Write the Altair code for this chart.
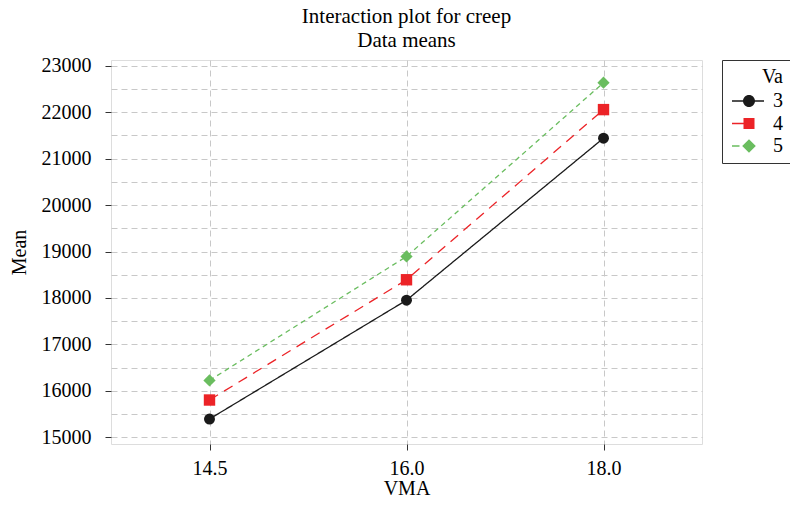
import altair as alt
import pandas as pd

# ---- data ----
vma_levels = ["14.5", "16.0", "18.0"]
va_levels = ["3", "4", "5"]
mean_va3 = [15394, 17952, 21440]
mean_va4 = [15803, 18392, 22055]
mean_va5 = [16225, 18893, 22634]

y_grid_values = list(range(15000, 23001, 500))

# ---- styles ----
colors = ["#1a1a1a", "#ec2327", "#6abd5f"]
marker_shapes = ["circle", "square", "diamond"]
marker_sizes = [120, 130, 150]
dashes = [[1, 0], [10, 7], [5, 4]]
# legend keys: short line + marker (unit = 10 px)
legend_paths = [
    "M-1.7,-0.065L-0.55,-0.065L-0.55,0.065L-1.7,0.065Z"
    "M0.55,-0.065L1.5,-0.065L1.5,0.065L0.55,0.065Z"
    "M-0.6,0A0.6,0.6,0,1,1,0.6,0A0.6,0.6,0,1,1,-0.6,0Z",
    "M-1.7,-0.065L-0.5,-0.065L-0.5,0.065L-1.7,0.065Z"
    "M-0.55,-0.55L0.55,-0.55L0.55,0.55L-0.55,0.55Z",
    "M-1.7,-0.065L-0.95,-0.065L-0.95,0.065L-1.7,0.065Z"
    "M0,-0.68L0.68,0L0,0.68L-0.68,0Z",
]
FONT = "Liberation Serif"

rows = []
for lvl, vals in zip(va_levels, [mean_va3, mean_va4, mean_va5]):
    for x, v in zip(vma_levels, vals):
        rows.append({"VMA": x, "Va": lvl, "Mean": v})
df = pd.DataFrame(rows)

x_enc = alt.X(
    "VMA:N",
    sort=vma_levels,
    scale=alt.Scale(type="point", padding=0.5),
    axis=alt.Axis(
        title="VMA", labelAngle=0, tickSize=6, labelPadding=8, titlePadding=0,
        grid=True, gridDash=[6, 4], gridColor="#c8c8c8", gridWidth=1,
        domain=False, tickColor="#333", labelFont=FONT, labelFontSize=20,
        labelColor="black", titleFont=FONT, titleFontSize=20,
        titleFontWeight="normal", titleColor="black",
    ),
)
y_enc = alt.Y(
    "Mean:Q",
    scale=alt.Scale(domain=[14856, 23123], nice=False, zero=False),
    axis=alt.Axis(
        title="Mean", values=y_grid_values, format="d",
        labelExpr="datum.value % 1000 == 0 ? datum.label : ''",
        tickOpacity={"condition": {"test": "datum.value % 1000 == 0", "value": 1}, "value": 0},
        tickSize=6, labelPadding=14, titlePadding=12,
        grid=True, gridDash=[6, 4], gridColor="#c8c8c8", gridWidth=1,
        domain=False, tickColor="#333", labelFont=FONT, labelFontSize=20,
        labelColor="black", titleFont=FONT, titleFontSize=20,
        titleFontWeight="normal", titleColor="black",
    ),
)

# data-driven domains here (sorted "3","4","5"), so these disabled legends
# are not merged with the visible legend below
color_enc = alt.Color("Va:N", scale=alt.Scale(range=colors), legend=None)

base = alt.Chart(df)

lines = base.mark_line(strokeWidth=1.3).encode(
    x=x_enc,
    y=y_enc,
    color=color_enc,
    strokeDash=alt.StrokeDash("Va:N", scale=alt.Scale(range=dashes), legend=None),
)

point_layers = [
    base.transform_filter(alt.datum.Va == lvl)
    .mark_point(filled=True, opacity=1, size=sz, shape=shp)
    .encode(x=x_enc, y=y_enc, color=color_enc)
    for lvl, shp, sz in zip(va_levels, marker_shapes, marker_sizes)
]

leg = alt.Legend(
    title="Va", orient="right", offset=20, padding=7, strokeColor="#333",
    fillColor="white", titleFont=FONT, titleFontSize=20, titleFontWeight="normal",
    titleColor="black", titleAnchor="end", titlePadding=4,
    labelFont=FONT, labelFontSize=20, labelColor="black", labelOffset=14,
    symbolOffset=10, symbolSize=400, symbolStrokeWidth=0, rowPadding=2.5,
)

# legend-only layer (no rows drawn), keys are line + marker
legend_layer = base.transform_filter("false").mark_point(
    filled=True, opacity=1, size=400, strokeWidth=0
).encode(
    fill=alt.Fill("Va:N", scale=alt.Scale(domain=va_levels, range=colors), legend=leg),
    shape=alt.Shape("Va:N", scale=alt.Scale(domain=va_levels, range=legend_paths), legend=leg),
)

chart = (
    alt.layer(lines, *point_layers, legend_layer)
    .properties(
        width=591,
        height=384,
        padding={"left": 103, "top": 52, "right": 88, "bottom": 54},
        autosize=alt.AutoSizeParams(type="none"),
        title=alt.TitleParams(
            text="Interaction plot for creep", subtitle="Data means",
            font=FONT, fontSize=21, fontWeight="normal", color="black",
            subtitleFont=FONT, subtitleFontSize=21, subtitleColor="black",
            subtitlePadding=3, anchor="middle", offset=5, frame="group",
        ),
    )
    .configure_view(stroke="#333", strokeWidth=1.2)
    .configure(background="white")
)

chart.save("out.html", embed_options={"renderer": "svg", "actions": False})
